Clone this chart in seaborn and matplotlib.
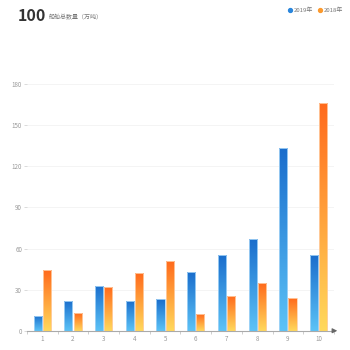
import numpy as np
import pandas as pd
import matplotlib
matplotlib.use("Agg")
import matplotlib.pyplot as plt
import seaborn as sns
from matplotlib.colors import LinearSegmentedColormap
from matplotlib.lines import Line2D

categories = ["1", "2", "3", "4", "5", "6", "7", "8", "9", "10"]
series_names = ["2019年", "2018年"]
values_2019 = [11, 22, 33, 22, 23, 43, 55, 67, 133, 55]
values_2018 = [44, 13, 32, 42, 51, 12, 25, 35, 24, 166]
y_ticks = [0, 30, 60, 90, 120, 150, 180]
title_number = "100"
title_text = "船舶总数量（万吨）"

df = pd.DataFrame({
    "cat": categories * 2,
    "series": [series_names[0]] * len(categories) + [series_names[1]] * len(categories),
    "value": values_2019 + values_2018,
})

sns.set_style("white")
plt.rcParams['font.family'] = ['Noto Sans CJK SC', 'DejaVu Sans']

fig = plt.figure(figsize=(3.5, 3.5), dpi=100)
ax = fig.add_axes([0.077, 0.055, 0.877, 0.705])

palette = {series_names[0]: "#2a86dc", series_names[1]: "#fb8a2e"}
sns.barplot(data=df, x="cat", y="value", hue="series", order=categories,
            hue_order=series_names, palette=palette, width=0.6, gap=0.12,
            ax=ax, legend=False, errorbar=None)

grads = [
    LinearSegmentedColormap.from_list("b", ["#5cc3f7", "#1a6dcc"]),
    LinearSegmentedColormap.from_list("o", ["#ffd95c", "#ff6a1c"]),
]
edge_cols = ["#a9d6f7", "#ffd0a8"]
grad = np.linspace(0, 1, 256).reshape(-1, 1)
for ci, cont in enumerate(ax.containers):
    for bar in cont:
        x0, w, h = bar.get_x(), bar.get_width(), bar.get_height()
        bar.set_facecolor("none")
        bar.set_edgecolor(edge_cols[ci])
        bar.set_linewidth(0.6)
        im = ax.imshow(grad, cmap=grads[ci], origin="lower", aspect="auto",
                       extent=[x0, x0 + w, 0, h], zorder=bar.get_zorder() - 0.1)
        im.set_clip_path(bar)

ax.set_xlim(-0.5, len(categories) - 0.5)
ax.set_ylim(0, 180)
ax.set_yticks(y_ticks)
ax.set_yticklabels([str(t) for t in y_ticks])
ax.set_xlabel("")
ax.set_ylabel("")
ax.grid(axis="y", color="#f2f2f2", linewidth=0.6)
ax.set_axisbelow(True)
for s in ["top", "right", "left"]:
    ax.spines[s].set_visible(False)
ax.spines["bottom"].set_color("#aaaaaa")
ax.spines["bottom"].set_linewidth(0.8)
ax.tick_params(axis="y", labelsize=4.5, labelcolor="#999999", length=2,
               width=0.5, color="#cccccc", pad=1.5, left=True)
ax.tick_params(axis="x", labelsize=4.5, labelcolor="#999999", length=0, pad=3)
ax.set_xticks(np.arange(-0.5, len(categories), 1), minor=True)
ax.tick_params(axis="x", which="minor", length=2, width=0.5, color="#bbbbbb", bottom=True)
ax.set_xlim(-0.5, len(categories) - 0.5)

ax.annotate("", xy=(1.02, 0), xycoords="axes fraction", xytext=(0.99, 0),
            arrowprops=dict(arrowstyle="-|>", color="#666666", lw=0.8,
                            mutation_scale=7), annotation_clip=False)

fig.text(0.05, 0.955, title_number, fontsize=11.5, fontweight="bold",
         color="#333333", va="center", ha="left")
fig.text(0.14, 0.952, title_text, fontsize=4.3, color="#777777",
         va="center", ha="left")

handles = [Line2D([], [], marker="o", linestyle="", markersize=2.8,
                  markerfacecolor=c, markeredgecolor=c)
           for c in ["#2a86dc", "#fb9a2e"]]
fig.legend(handles, series_names, loc="upper right", bbox_to_anchor=(0.995, 0.995),
           ncol=2, frameon=False, fontsize=4.3, handletextpad=0.2,
           columnspacing=0.8, handlelength=0.8, labelcolor="#777777")

fig.savefig("out.png", dpi=100)
